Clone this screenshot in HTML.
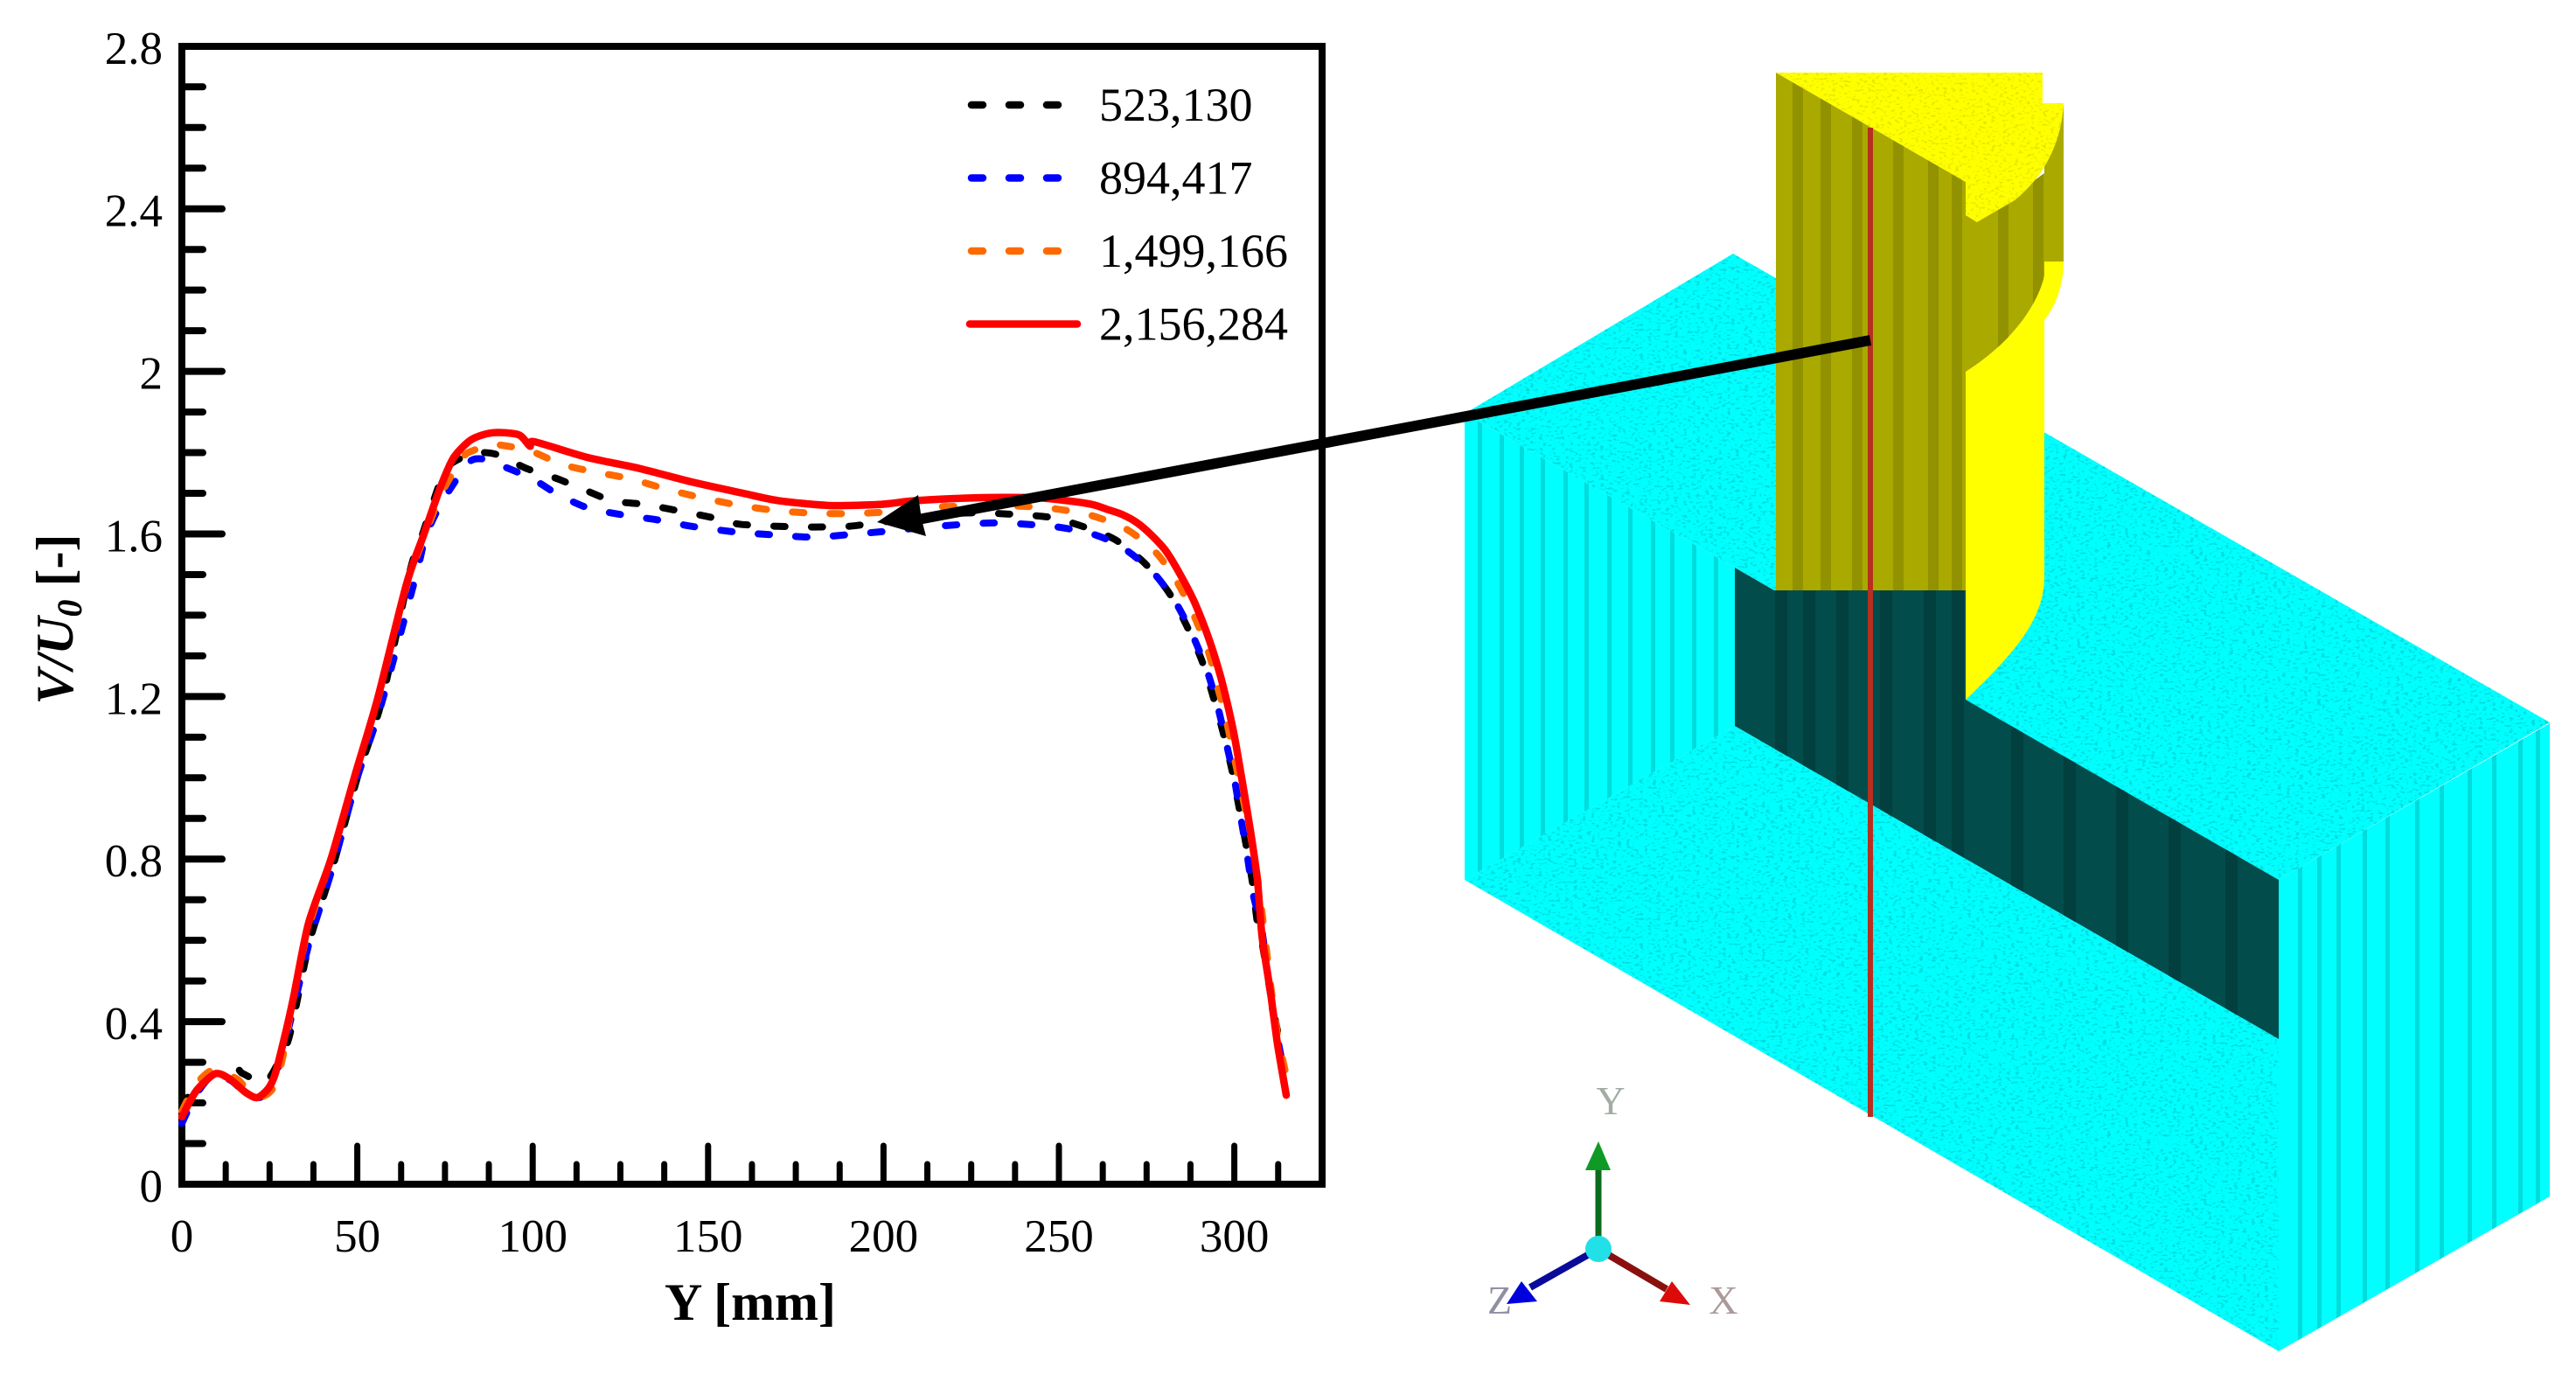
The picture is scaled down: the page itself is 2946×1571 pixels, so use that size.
<!DOCTYPE html>
<html lang="en">
<head>
<meta charset="utf-8">
<title>Velocity profile and geometry</title>
<style>
html,body{margin:0;padding:0;background:#fff;width:2946px;height:1571px;overflow:hidden}
svg{display:block;position:absolute;left:0;top:0}
text{font-family:"Liberation Serif",serif;fill:#000}
</style>
</head>
<body>
<svg id="fig" xmlns="http://www.w3.org/2000/svg" width="2946" height="1571" viewBox="0 0 2946 1571">
  <defs>
    <filter id="speckle" x="0" y="0" width="100%" height="100%" color-interpolation-filters="sRGB">
      <feTurbulence type="fractalNoise" baseFrequency="0.2 0.38" numOctaves="2" seed="4" result="n"/>
      <feColorMatrix in="n" type="matrix" values="0 0 0 0 0  0 0 0 0 0.86  0 0 0 0 0.86  7 0 0 0 -3.9" result="spots"/>
      <feComposite in="spots" in2="SourceAlpha" operator="in" result="clipped"/>
      <feMerge><feMergeNode in="SourceGraphic"/><feMergeNode in="clipped"/></feMerge>
    </filter>
    <filter id="speckleY" x="0" y="0" width="100%" height="100%" color-interpolation-filters="sRGB">
      <feTurbulence type="fractalNoise" baseFrequency="0.22 0.38" numOctaves="2" seed="7" result="n"/>
      <feColorMatrix in="n" type="matrix" values="0 0 0 0 0.9  0 0 0 0 0.9  0 0 0 0 0  7 0 0 0 -3.9" result="spots"/>
      <feComposite in="spots" in2="SourceAlpha" operator="in" result="clipped"/>
      <feMerge><feMergeNode in="SourceGraphic"/><feMergeNode in="clipped"/></feMerge>
    </filter>
    <clipPath id="clip-left-wall"><polygon points="1675,473 1984,649 1984,830 1675,1006"/></clipPath>
    <clipPath id="clip-right-wall"><polygon points="2606,1006 2916,827 2916,1368 2606,1545"/></clipPath>
    <clipPath id="clip-panel"><polygon points="1984,649 2029,675 2248,675 2248,800 2606,1006 2606,1188 1984,830"/></clipPath>
    <clipPath id="clip-olive"><path d="M2031,83 L2248,208 L2248,246 L2261,254 L2338,198 L2338,118 L2360,118 L2360,299 L2338,299 L2338,315 C2330,350 2300,392 2248,425 L2248,675 L2031,675 Z"/></clipPath>
  </defs>

  <g id="model">
    <polygon points="1982,290 2916,826 2606,1006 1984,649 1675,473" fill="#00ffff" filter="url(#speckle)"/>
    <polygon points="1675,473 1984,649 1984,830 1675,1006" fill="#00ffff"/>
    <polygon points="1675,1006 1984,830 2606,1188 2606,1545" fill="#00ffff" filter="url(#speckle)"/>
    <polygon points="2606,1006 2916,827 2916,1368 2606,1545" fill="#00ffff"/>
    <g id="left-wall-stripes" clip-path="url(#clip-left-wall)"></g>
    <g id="right-wall-stripes" clip-path="url(#clip-right-wall)"></g>
    <polygon points="1984,649 2029,675 2248,675 2248,800 2606,1006 2606,1188 1984,830" fill="#024c4c"/>
    <g id="panel-stripes" clip-path="url(#clip-panel)"></g>
    <path d="M2248,425 L2248,800 C2300,750 2338,710 2338,660 L2338,366 C2352,348 2360,325 2360,299 L2338,299 L2338,315 C2330,350 2300,392 2248,425 Z" fill="#ffff00"/>
    <path d="M2031,83 L2248,208 L2248,246 L2261,254 L2338,198 L2338,118 L2360,118 L2360,299 L2338,299 L2338,315 C2330,350 2300,392 2248,425 L2248,675 L2031,675 Z" fill="#a9a900"/>
    <g id="olive-stripes" clip-path="url(#clip-olive)"></g>
    <path d="M2031,83 L2336,83 L2336,118 L2360,118 C2358,160 2340,200 2304,229 L2261,254 L2248,246 L2248,208 Z" fill="#ffff00" filter="url(#speckleY)"/>
    <line x1="2139" y1="146" x2="2139" y2="1277" stroke="#b5301f" stroke-width="6"/>
    <g>
      <line x1="1828" y1="1428" x2="1828" y2="1335" stroke="#0b6b1c" stroke-width="7"/>
      <polygon points="1828,1305 1842,1338 1813,1338" fill="#0f9a26"/>
      <line x1="1828" y1="1428" x2="1750" y2="1472" stroke="#0a0a9a" stroke-width="8"/>
      <polygon points="1723,1491 1740,1465 1758,1488" fill="#0000dd"/>
      <line x1="1828" y1="1428" x2="1906" y2="1474" stroke="#8a1010" stroke-width="8"/>
      <polygon points="1933,1492 1912,1465 1898,1488" fill="#dd0a0a"/>
      <circle cx="1828" cy="1428" r="15" fill="#22e0e8"/>
      <text x="1842" y="1274" font-size="46" text-anchor="middle" style="fill:#a3aca3">Y</text>
      <text x="1715" y="1502" font-size="46" text-anchor="middle" style="fill:#8f8fa3">Z</text>
      <text x="1971" y="1502" font-size="46" text-anchor="middle" style="fill:#ab9a9a">X</text>
    </g>
  </g>

  <g id="chart">
    <g id="ticks"></g>
    <rect x="208" y="53" width="1304" height="1301" fill="none" stroke="#000" stroke-width="8"/>
    <g id="tick-labels" font-size="53"></g>
    <g id="series"></g>
    <g id="legend" font-size="54"></g>
    <text x="858" y="1509" font-size="60" font-weight="bold" text-anchor="middle">Y [mm]</text>
    <text transform="translate(83,708) rotate(-90)" font-size="60" font-weight="bold" text-anchor="middle"><tspan font-style="italic">V/U</tspan><tspan font-style="italic" font-size="40" dy="10">0</tspan><tspan dy="-10"> [-]</tspan></text>
  </g>

  <g>
    <line x1="1050" y1="594" x2="2139" y2="389" stroke="#000" stroke-width="12"/>
    <polygon points="1003,597 1050,566 1054,594 1059,613" fill="#000"/>
  </g>
</svg>

<script>
// Chart data
const xMajorTicks = [0, 50, 100, 150, 200, 250, 300];
const xTickLabels = ["0", "50", "100", "150", "200", "250", "300"];
const yMajorTicks = [0, 0.4, 0.8, 1.2, 1.6, 2, 2.4, 2.8];
const yTickLabels = ["0", "0.4", "0.8", "1.2", "1.6", "2", "2.4", "2.8"];
const legendLabels = ["523,130", "894,417", "1,499,166", "2,156,284"];

const meshAY = [0, 5, 14.7, 17.2, 23, 25.4, 30, 32.4, 36.5, 43, 50, 57, 65, 68.4, 71.8, 75.4, 80.7, 85, 89.9, 98.5, 106.6, 115.7, 122.9, 131.5, 141.5, 151.3, 158.9, 169.4, 179.7, 190.3, 199.5, 221.7, 235.3, 248.2, 258.6, 266.4, 274.7, 281.4, 286.6, 290.9, 294.1, 296.9, 299.4, 301.4, 303.4, 305.2, 306.5, 308, 310.5, 312.6, 315];
const meshAV = [0.19, 0.252, 0.288, 0.273, 0.25, 0.267, 0.346, 0.432, 0.6, 0.78, 1.0, 1.19, 1.508, 1.594, 1.683, 1.762, 1.791, 1.8, 1.795, 1.76, 1.737, 1.705, 1.681, 1.673, 1.657, 1.64, 1.624, 1.619, 1.617, 1.619, 1.629, 1.651, 1.649, 1.64, 1.613, 1.584, 1.526, 1.455, 1.371, 1.285, 1.196, 1.108, 1.016, 0.925, 0.833, 0.74, 0.648, 0.59, 0.46, 0.368, 0.325];

const meshBY = [0, 4, 9, 14, 18, 21.5, 25, 28, 32, 36.5, 43, 50, 56.5, 66.8, 69.5, 74, 81.5, 85, 89.6, 99.6, 107, 115.7, 124.9, 135.2, 145.2, 157.6, 169.8, 180.2, 190.9, 201.4, 212.5, 231.5, 248.7, 260.6, 268.9, 277.2, 283.6, 288.4, 292.4, 295.4, 297.9, 300.2, 302, 303.8, 305.4, 307.9, 310.9, 314.6];
const meshBV = [0.15, 0.22, 0.27, 0.255, 0.225, 0.212, 0.23, 0.3, 0.44, 0.6, 0.78, 1.0, 1.17, 1.5, 1.594, 1.676, 1.773, 1.785, 1.773, 1.737, 1.698, 1.664, 1.648, 1.635, 1.619, 1.605, 1.597, 1.592, 1.599, 1.607, 1.617, 1.627, 1.618, 1.597, 1.562, 1.502, 1.427, 1.345, 1.259, 1.171, 1.078, 0.988, 0.895, 0.803, 0.712, 0.622, 0.43, 0.256];

const meshCY = [0, 4, 8.9, 15.5, 18, 21.7, 25.9, 28.7, 32, 36.1, 42.5, 49.2, 55.8, 64, 69, 74, 80.1, 83, 88.7, 99, 108.4, 117.9, 127.7, 137.8, 147.2, 158.4, 169.9, 180.5, 191.2, 201.9, 212.5, 236, 248.7, 259, 269.2, 277.7, 283.8, 288.6, 292.6, 295.4, 297.9, 300, 302.2, 304.8, 307, 310.5, 312.5, 315];
const meshCV = [0.18, 0.245, 0.281, 0.26, 0.239, 0.213, 0.235, 0.31, 0.47, 0.63, 0.8, 1.0, 1.19, 1.47, 1.59, 1.7, 1.788, 1.805, 1.82, 1.805, 1.771, 1.752, 1.736, 1.711, 1.691, 1.671, 1.657, 1.651, 1.65, 1.655, 1.666, 1.669, 1.662, 1.646, 1.612, 1.554, 1.48, 1.397, 1.31, 1.22, 1.134, 1.05, 0.96, 0.85, 0.73, 0.48, 0.36, 0.26];

const meshDY = [0, 4.2, 9.6, 13.8, 18, 21.4, 24.6, 26.7, 29.6, 31.9, 36.1, 42.5, 49.2, 55.8, 64, 68.9, 73.8, 77.5, 82.5, 88.6, 96, 99.2, 100.4, 115.7, 130.5, 145.3, 160, 170, 184.7, 199.5, 209.3, 226.6, 243.8, 254, 259.7, 263.9, 268, 272.2, 276.4, 280.5, 284.6, 288.8, 293, 296.3, 299.6, 302, 304.6, 306.6, 307.9, 310.3, 312.3, 314.8];
const meshDV = [0.166, 0.231, 0.272, 0.258, 0.227, 0.213, 0.235, 0.274, 0.374, 0.463, 0.642, 0.8, 1.002, 1.195, 1.476, 1.597, 1.717, 1.788, 1.832, 1.849, 1.844, 1.816, 1.827, 1.788, 1.761, 1.728, 1.7, 1.682, 1.67, 1.673, 1.682, 1.689, 1.689, 1.68, 1.672, 1.66, 1.648, 1.628, 1.597, 1.558, 1.5, 1.429, 1.336, 1.242, 1.121, 1.005, 0.869, 0.747, 0.61, 0.473, 0.346, 0.219];

const NS = "http://www.w3.org/2000/svg";
function sx(v){ return 208 + v * 4.012; }
function sy(v){ return 1354 - v * 464.7; }
function mk(tag, parent, attrs){
  const el = document.createElementNS(NS, tag);
  for (const k in attrs) el.setAttribute(k, attrs[k]);
  parent.appendChild(el);
  return el;
}
function curvePath(xs, ys){
  const p = xs.map((x, i) => [sx(x), sy(ys[i])]);
  let d = "M" + p[0][0].toFixed(1) + "," + p[0][1].toFixed(1);
  const t = 0.13;
  for (let i = 0; i < p.length - 1; i++){
    const a = p[Math.max(i - 1, 0)], b = p[i], c = p[i + 1], e = p[Math.min(i + 2, p.length - 1)];
    const c1x = b[0] + (c[0] - a[0]) * t, c1y = b[1] + (c[1] - a[1]) * t;
    const c2x = c[0] - (e[0] - b[0]) * t, c2y = c[1] - (e[1] - b[1]) * t;
    d += " C" + c1x.toFixed(1) + "," + c1y.toFixed(1) + " " + c2x.toFixed(1) + "," + c2y.toFixed(1) + " " + c[0].toFixed(1) + "," + c[1].toFixed(1);
  }
  return d;
}

// ticks
const tickG = document.getElementById("ticks");
for (let v = 0; v <= 312.5; v += 12.5){
  const major = xMajorTicks.includes(v);
  const tick = mk("line", tickG, {x1: sx(v), x2: sx(v), y1: sy(0), y2: sy(0) - (major ? 44 : 23), stroke: "#000", "stroke-width": 7, "stroke-linecap": "round"});
  
  
}
for (let k = 1; k < 28; k++){
  const v = k / 10;
  const major = k % 4 === 0;
  const tick = mk("line", tickG, {x1: sx(0), x2: sx(0) + (major ? 46 : 24), y1: sy(v), y2: sy(v), stroke: "#000", "stroke-width": 8, "stroke-linecap": "round"});
  
  
}

// tick labels
const labelG = document.getElementById("tick-labels");
xMajorTicks.forEach((v, i) => {
  const t = mk("text", labelG, {x: sx(v), y: 1431, "text-anchor": "middle"});
  t.textContent = xTickLabels[i];
  
  
});
yMajorTicks.forEach((v, i) => {
  const t = mk("text", labelG, {x: 186, y: sy(v) + 20, "text-anchor": "end"});
  t.textContent = yTickLabels[i];
  
  
});

// series
const seriesG = document.getElementById("series");
const lineA = mk("path", seriesG, {d: curvePath(meshAY, meshAV), fill: "none", stroke: "#000000", "stroke-width": 8, "stroke-dasharray": "13 30", "stroke-linecap": "round", "stroke-linejoin": "round"});


const lineB = mk("path", seriesG, {d: curvePath(meshBY, meshBV), fill: "none", stroke: "#0000ff", "stroke-width": 8, "stroke-dasharray": "13 30", "stroke-linecap": "round", "stroke-linejoin": "round"});


const lineC = mk("path", seriesG, {d: curvePath(meshCY, meshCV), fill: "none", stroke: "#ff6a00", "stroke-width": 8, "stroke-dasharray": "13 30", "stroke-linecap": "round", "stroke-linejoin": "round"});


const lineD = mk("path", seriesG, {d: curvePath(meshDY, meshDV), fill: "none", stroke: "#ff0000", "stroke-width": 8.5, "stroke-linecap": "round", "stroke-linejoin": "round"});



// legend
const legendG = document.getElementById("legend");
const legendColors = ["#000000", "#0000ff", "#ff6a00", "#ff0000"];
legendLabels.forEach((lab, i) => {
  const yy = 120 + i * 83.5;
  const solid = i === 3;
  const s = mk("line", legendG, {x1: solid ? 1109 : 1111, x2: solid ? 1232 : 1212, y1: yy, y2: yy, stroke: legendColors[i], "stroke-width": 8.5, "stroke-linecap": "round"});
  if (!solid) s.setAttribute("stroke-dasharray", "13 30");
  
  
  const t = mk("text", legendG, {x: 1257, y: yy + 18});
  t.textContent = lab;
  
  
});

// decorative stripes on the 3D model
const leftStripes = [1690, 1715, 1738, 1762, 1788, 1812, 1838, 1862, 1888, 1910, 1935, 1960];
const rightStripes = [2628, 2650, 2672, 2702, 2728, 2762, 2790, 2822, 2850, 2880, 2900];
const panelStripes = [2030, 2062, 2100, 2150, 2200, 2232, 2300, 2360, 2420, 2480, 2545];
const oliveStripes = [2050, 2082, 2118, 2165, 2205, 2232, 2285, 2325];
function stripes(id, list, w, color){
  const g = document.getElementById(id);
  list.forEach(x => {
    const r = mk("rect", g, {x: x, y: 60, width: w, height: 1500, fill: color});
    
    
  });
}
stripes("left-wall-stripes", leftStripes, 5, "#00dcdc");
stripes("right-wall-stripes", rightStripes, 5, "#00dcdc");
stripes("panel-stripes", panelStripes, 14, "#023f3f");
stripes("olive-stripes", oliveStripes, 12, "#929200");
</script>
</body>
</html>
